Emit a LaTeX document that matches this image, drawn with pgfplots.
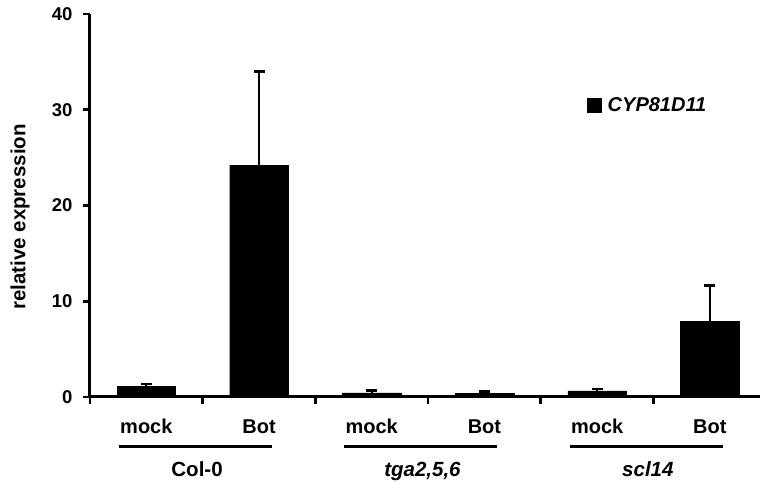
\documentclass[border=0pt]{standalone}
\usepackage{pgfplots}
\pgfplotsset{compat=1.18}
\usepackage{fontspec}
\setmainfont{Liberation Sans}
\pgfplotstableread{
x y e
0 1.08 0.28
1 24.2 9.8
2 0.42 0.28
3 0.40 0.20
4 0.63 0.21
5 7.87 3.80
}\datatab
\tikzset{catlab/.style={anchor=base, font=\fontsize{20}{24}\selectfont\bfseries, inner sep=0pt},
  grplab/.style={anchor=base, font=\fontsize{20.5}{24}\selectfont\bfseries, inner sep=0pt}}
\begin{document}
\begin{tikzpicture}
\begin{axis}[
  scale only axis, width=670pt, height=383pt,
  xmin=-0.5, xmax=5.445, ymin=0, ymax=40,
  clip=false,
  axis x line*=bottom, axis y line*=left,
  axis line style={line width=3pt, black},
  tick style={line width=2.7pt, black},
  major tick length=7pt, tick align=outside,
  ytick={0,10,20,30,40},
  xtick={-0.5,0.5,1.5,2.5,3.5,4.5}, xticklabels={},
  /pgf/number format/assume math mode=true,
  yticklabel style={font=\fontsize{18.5}{20}\selectfont\bfseries, xshift=-7pt},
  ylabel={relative expression},
  every axis y label/.style={at={(rel axis cs:0,0.47)}, xshift=-70pt, rotate=90, anchor=center, font=\fontsize{20.5}{24}\selectfont\bfseries},
  legend style={draw=none, fill=none, at={(0.742,0.762)}, anchor=west, inner sep=0pt, font=\fontsize{20}{24}\selectfont\bfseries},
  legend image code/.code={\fill[black] (0pt,-7pt) rectangle (14pt,7pt); \path (18pt,0pt);},
]
\addplot[ybar, bar width=0.52, fill=black, draw=black,
  error bars/.cd, y dir=plus, y explicit,
  error mark=|,
  error bar style={line width=2pt, black},
  error mark options={line width=2.5pt, mark size=5.5pt, black}]
  table[x=x, y=y, y error=e]{\datatab};
\addlegendentry{\textit{CYP81D11}}
\coordinate (o) at (rel axis cs:0,0);
\coordinate (t) at (rel axis cs:1,1);
\node[catlab] at ([yshift=-37pt]axis cs:0,0) {mock};
\node[catlab] at ([yshift=-37pt]axis cs:1,0) {Bot};
\node[catlab] at ([yshift=-37pt]axis cs:2,0) {mock};
\node[catlab] at ([yshift=-37pt]axis cs:3,0) {Bot};
\node[catlab] at ([yshift=-37pt]axis cs:4,0) {mock};
\node[catlab] at ([yshift=-37pt]axis cs:5,0) {Bot};
\draw[line width=3pt] ([yshift=-50pt]axis cs:-0.243,0) -- ([yshift=-50pt]axis cs:1.115,0);
\draw[line width=3pt] ([yshift=-50pt]axis cs:1.757,0) -- ([yshift=-50pt]axis cs:3.115,0);
\draw[line width=3pt] ([yshift=-50pt]axis cs:3.757,0) -- ([yshift=-50pt]axis cs:5.115,0);
\node[grplab] at ([yshift=-80pt]axis cs:0.45,0) {Col-0};
\node[grplab, font=\fontsize{20.5}{24}\selectfont\bfseries\itshape] at ([yshift=-80pt]axis cs:2.45,0) {tga2,5,6};
\node[grplab, font=\fontsize{20.5}{24}\selectfont\bfseries\itshape] at ([yshift=-80pt]axis cs:4.45,0) {scl14};
\end{axis}
\pgfresetboundingbox
\path ([shift={(-90pt,-86pt)}]o) rectangle ([shift={(0pt,14pt)}]t);
\end{tikzpicture}
\end{document}
